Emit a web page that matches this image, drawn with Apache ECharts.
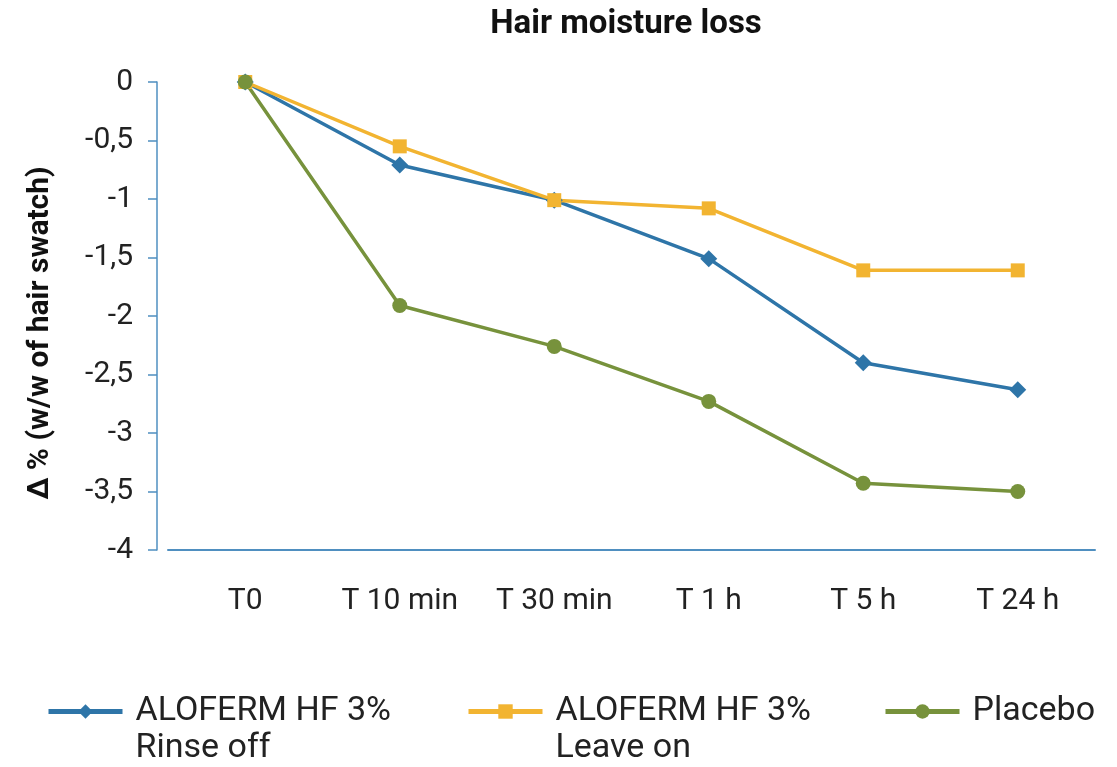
<!DOCTYPE html>
<html><head><meta charset="utf-8">
<script src="https://cdn.jsdelivr.net/npm/echarts@6/dist/echarts.min.js"></script>
<style>html,body{margin:0;padding:0;background:#fff}#c{width:1117px;height:767px}</style>
</head><body><div id="c"></div>
<script>
const categories = ['T0', 'T 10 min', 'T 30 min', 'T 1 h', 'T 5 h', 'T 24 h'];
const rinseOff = [0, -0.71, -1.01, -1.51, -2.40, -2.63];
const leaveOn = [0, -0.55, -1.01, -1.08, -1.61, -1.61];
const placebo = [0, -1.91, -2.26, -2.73, -3.43, -3.50];
const seriesNames = ['ALOFERM HF 3%\nRinse off', 'ALOFERM HF 3%\nLeave on', 'Placebo'];
const colors = ['#2e75a8', '#f2b431', '#77923c'];
const font = 'Roboto, "Noto Sans", sans-serif';
const axisColor = '#4f8fc0';

const legendLeft = [46, 466, 883];
const legendTop = [656, 656, 693];
const legends = seriesNames.map((n, i) => ({
  left: legendLeft[i], top: legendTop[i], itemWidth: 74, itemHeight: 18, padding: 0,
  lineStyle: {width: 5},
  formatter: name => (name.indexOf('\n') >= 0 ? '\n' + name : name),
  textStyle: {fontFamily: font, fontSize: 34, color: '#222', lineHeight: 37, padding: [0, 0, 0, 8]},
  data: [n]
}));

const chart = echarts.init(document.getElementById('c'), null, {renderer: 'canvas'});
chart.setOption({
  animation: false,
  color: colors,
  title: {
    text: 'Hair moisture loss', left: 621, top: 3, textAlign: 'center',
    textStyle: {fontFamily: font, fontSize: 33, fontWeight: 'bold', color: '#111'}
  },
  grid: {left: 168, right: 22, top: 82, bottom: 217, containLabel: false},
  xAxis: {
    type: 'category', data: categories, boundaryGap: true,
    axisLine: {onZero: false, lineStyle: {color: axisColor, width: 2}},
    axisTick: {length: 13, lineStyle: {color: axisColor, width: 1.5}},
    axisLabel: {fontFamily: font, fontSize: 30, color: '#222', margin: 36}
  },
  yAxis: {
    type: 'value', min: -4, max: 0, interval: 0.5, offset: 11,
    name: 'Δ % (w/w of hair swatch)', nameLocation: 'middle', nameGap: 102,
    nameTextStyle: {fontFamily: font, fontSize: 30, fontWeight: 'bold', color: '#111', padding: [0, 34, 0, 0]},
    axisLine: {show: true, lineStyle: {color: axisColor, width: 1.5}},
    axisTick: {show: true, length: 9, lineStyle: {color: axisColor, width: 1.5}},
    splitLine: {show: false},
    axisLabel: {fontFamily: font, fontSize: 30, color: '#222', margin: 24,
      formatter: v => String(v).replace('.', ',')}
  },
  legend: legends,
  series: [
    {name: seriesNames[0], type: 'line', data: rinseOff, symbol: 'diamond', symbolSize: 17,
     lineStyle: {width: 3.5}, itemStyle: {color: colors[0]}},
    {name: seriesNames[1], type: 'line', data: leaveOn, symbol: 'rect', symbolSize: 14,
     lineStyle: {width: 3.5}, itemStyle: {color: colors[1]}},
    {name: seriesNames[2], type: 'line', data: placebo, symbol: 'circle', symbolSize: 15,
     lineStyle: {width: 3.5}, itemStyle: {color: colors[2]}}
  ]
});
</script></body></html>
